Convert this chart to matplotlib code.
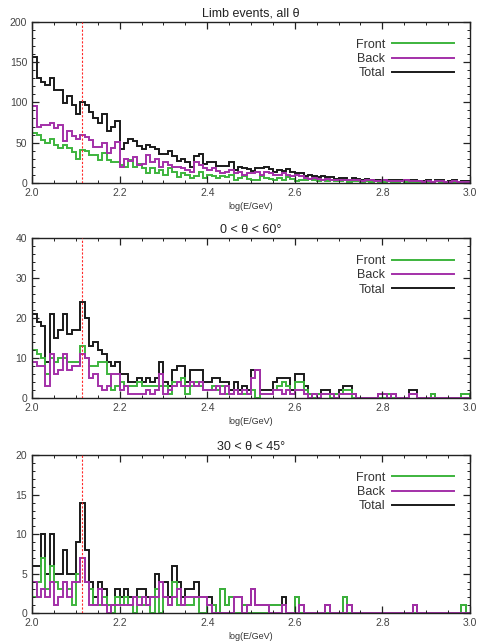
import numpy as np
import matplotlib.pyplot as plt
from matplotlib.ticker import MultipleLocator

plt.rcParams['font.family'] = ['Liberation Sans', 'DejaVu Sans']

# binning in log(E/GeV), 0.01 wide bins
e_lo = 2.0
e_hi = 3.0
n_bins = 100
e_cut = 2.114   # red dashed line

# --- Limb events, all theta ---
front_all = [62, 60, 53, 49, 55, 47, 43, 47, 43, 39,
             30, 41, 40, 35, 35, 29, 37, 28, 26, 26,
             22, 20, 28, 20, 24, 18, 12, 18, 12, 16,
             10, 18, 14, 7, 12, 10, 6, 8, 14, 6,
             10, 8, 6, 9, 7, 10, 4, 6, 8, 5,
             3, 4, 8, 6, 5, 4, 6, 3, 7, 5,
             2, 4, 3, 5, 3, 2, 4, 2, 3, 2,
             2, 3, 1, 2, 2, 1, 2, 1, 2, 1,
             1, 2, 1, 1, 2, 1, 1, 1, 0, 1,
             1, 0, 2, 1, 0, 1, 1, 0, 1, 1]
back_all = [95, 70, 72, 72, 75, 68, 72, 52, 65, 58,
            55, 60, 57, 53, 45, 45, 49, 37, 43, 51,
            20, 30, 27, 32, 22, 24, 35, 26, 30, 20,
            26, 22, 20, 20, 18, 16, 14, 26, 22, 18,
            16, 18, 15, 12, 14, 16, 12, 14, 10, 12,
            12, 14, 10, 14, 12, 10, 10, 12, 10, 8,
            10, 8, 6, 5, 6, 5, 4, 5, 4, 3,
            4, 3, 3, 4, 3, 2, 3, 3, 2, 2,
            3, 2, 2, 2, 2, 3, 2, 2, 2, 1,
            2, 1, 2, 2, 1, 1, 2, 1, 1, 1]
total_all = [157, 130, 125, 121, 130, 115, 115, 99, 108, 97,
             85, 101, 97, 88, 80, 74, 86, 65, 69, 77,
             42, 50, 55, 52, 46, 42, 47, 44, 42, 36,
             36, 40, 34, 27, 30, 26, 20, 34, 36, 24,
             26, 26, 21, 21, 21, 26, 16, 20, 18, 17,
             15, 18, 18, 20, 17, 14, 16, 15, 17, 13,
             12, 12, 9, 10, 9, 7, 8, 7, 7, 5,
             6, 6, 4, 6, 5, 3, 5, 4, 4, 3,
             4, 4, 3, 3, 4, 4, 3, 3, 2, 2,
             3, 1, 4, 3, 1, 2, 3, 1, 2, 2]

# --- 0 < theta < 60 ---
front_60 = [12, 11, 10, 6, 10, 9, 10, 10, 9, 9,
            9, 13, 10, 8, 8, 9, 9, 6, 2, 3,
            4, 3, 3, 3, 4, 3, 3, 3, 3, 3,
            3, 1, 4, 4, 5, 1, 3, 4, 3, 2,
            2, 3, 2, 3, 1, 1, 2, 1, 1, 1,
            2, 0, 1, 1, 1, 2, 3, 4, 3, 1,
            4, 4, 2, 1, 0, 1, 1, 1, 0, 1,
            1, 2, 2, 0, 0, 0, 0, 0, 0, 0,
            0, 1, 0, 0, 0, 0, 1, 1, 0, 0,
            0, 1, 0, 0, 0, 0, 0, 0, 1, 1]
back_60 = [9, 8, 8, 3, 11, 6, 7, 11, 7, 8,
           8, 11, 10, 5, 6, 3, 2, 3, 6, 6,
           2, 3, 1, 1, 1, 1, 2, 1, 2, 6,
           1, 2, 3, 4, 3, 3, 4, 3, 4, 2,
           2, 2, 3, 1, 3, 1, 2, 1, 2, 1,
           5, 7, 1, 1, 1, 2, 2, 1, 2, 1,
           2, 2, 1, 0, 1, 0, 1, 1, 1, 0,
           1, 1, 1, 1, 0, 0, 0, 0, 0, 1,
           1, 0, 1, 0, 0, 0, 1, 1, 0, 0,
           0, 0, 0, 0, 0, 0, 0, 0, 0, 0]
total_60 = [21, 19, 18, 9, 21, 15, 17, 21, 16, 17,
            17, 24, 20, 13, 14, 12, 11, 9, 8, 9,
            6, 6, 4, 4, 5, 4, 5, 4, 5, 9,
            4, 3, 7, 8, 8, 4, 7, 7, 7, 4,
            4, 5, 5, 4, 4, 2, 4, 2, 3, 2,
            7, 7, 2, 2, 2, 4, 5, 5, 5, 2,
            6, 6, 3, 1, 1, 1, 2, 2, 1, 1,
            2, 3, 3, 1, 0, 0, 0, 0, 0, 1,
            1, 1, 1, 0, 0, 0, 2, 2, 0, 0,
            0, 1, 0, 0, 0, 0, 0, 0, 1, 1]

# --- 30 < theta < 45 ---
front_45 = [2, 4, 7, 3, 6, 4, 3, 4, 3, 1,
            5, 7, 4, 3, 1, 1, 2, 1, 0, 2,
            1, 2, 1, 0, 2, 1, 1, 0, 3, 0,
            2, 1, 4, 1, 1, 1, 1, 2, 0, 0,
            1, 1, 0, 3, 1, 2, 0, 0, 1, 0,
            0, 0, 0, 0, 1, 1, 1, 1, 0, 0,
            2, 0, 0, 0, 0, 0, 0, 0, 0, 0,
            0, 2, 0, 0, 0, 0, 0, 0, 0, 0,
            0, 0, 0, 0, 0, 0, 0, 0, 0, 0,
            0, 0, 0, 0, 0, 0, 0, 0, 1, 0]
back_45 = [4, 2, 3, 2, 4, 1, 2, 4, 2, 4,
           4, 7, 4, 1, 1, 3, 1, 0, 1, 1,
           1, 1, 1, 2, 1, 2, 1, 2, 2, 4,
           2, 1, 2, 3, 1, 2, 2, 2, 2, 2,
           1, 0, 0, 0, 0, 0, 2, 2, 0, 1,
           3, 1, 1, 1, 0, 0, 0, 1, 0, 0,
           0, 1, 0, 0, 0, 0, 0, 1, 0, 0,
           0, 0, 1, 0, 0, 0, 0, 0, 0, 0,
           0, 0, 0, 0, 0, 0, 0, 1, 0, 0,
           0, 0, 0, 0, 0, 0, 0, 0, 0, 0]
total_45 = [6, 6, 10, 5, 10, 5, 5, 8, 5, 5,
            9, 14, 8, 4, 2, 4, 3, 1, 1, 3,
            2, 3, 2, 2, 3, 3, 2, 2, 5, 4,
            4, 2, 6, 4, 2, 3, 3, 4, 2, 2,
            2, 1, 0, 3, 1, 2, 2, 2, 1, 1,
            3, 1, 1, 1, 1, 1, 1, 2, 0, 0,
            2, 1, 0, 0, 0, 0, 0, 1, 0, 0,
            0, 2, 1, 0, 0, 0, 0, 0, 0, 0,
            0, 0, 0, 0, 0, 0, 0, 1, 0, 0,
            0, 0, 0, 0, 0, 0, 0, 0, 1, 0]

titles = ['Limb events, all \u03b8', '0 < \u03b8 < 60\u00b0', '30 < \u03b8 < 45\u00b0']
y_max = [200, 40, 20]
y_step = [50, 10, 5]

c_front = '#3db43d'
c_back = '#a330a8'
c_total = '#1a1a1a'

edges = np.linspace(e_lo, e_hi, n_bins + 1)
data = [(front_all, back_all, total_all),
        (front_60, back_60, total_60),
        (front_45, back_45, total_45)]
# axes boxes in figure fractions
boxes = [[0.067, 0.716, 0.912, 0.250],
         [0.067, 0.382, 0.912, 0.248],
         [0.067, 0.048, 0.912, 0.245]]

fig = plt.figure(figsize=(4.8, 6.44), dpi=100)

for i in range(3):
    front, back, total = data[i]
    ax = fig.add_axes(boxes[i])
    ax.stairs(total, edges, color=c_total, lw=1.4, label='Total')
    ax.stairs(front, edges, color=c_front, lw=1.4, label='Front')
    ax.stairs(back, edges, color=c_back, lw=1.4, label='Back')
    ax.axvline(e_cut, color='#ff2a2a', lw=0.8, ls=(0, (2, 1.5)), zorder=3)

    ax.set_xlim(e_lo, e_hi)
    ax.set_ylim(0, y_max[i])
    ax.xaxis.set_major_locator(MultipleLocator(0.2))
    ax.xaxis.set_minor_locator(MultipleLocator(0.05))
    ax.yaxis.set_major_locator(MultipleLocator(y_step[i]))
    ax.yaxis.set_minor_locator(MultipleLocator(y_step[i] / 5))
    ax.xaxis.set_major_formatter(lambda v, p: '%.1f' % v)
    ax.tick_params(which='both', direction='in', top=True, right=True,
                   labelsize=7.5, labelcolor='#444444', color='#222222')
    ax.tick_params(which='major', length=5, width=0.9)
    ax.tick_params(which='minor', length=2.5, width=0.7)
    for s in ax.spines.values():
        s.set_linewidth(1.0)
        s.set_color('#222222')

    ax.set_title(titles[i], fontsize=9, pad=4, color='#222222')
    ax.set_xlabel('log(E/GeV)', fontsize=6.5, labelpad=3, color='#333333')

    h, l = ax.get_legend_handles_labels()
    order = [1, 2, 0]
    leg = ax.legend([h[k] for k in order], [l[k] for k in order],
                    loc='upper right', bbox_to_anchor=(0.963, 0.895),
                    frameon=False, markerfirst=False, fontsize=9,
                    handlelength=4.9, handletextpad=0.6, labelspacing=0.18,
                    borderpad=0, borderaxespad=0)
    for t in leg.get_texts():
        t.set_color('#333333')

fig.savefig('out.png', dpi=100)
